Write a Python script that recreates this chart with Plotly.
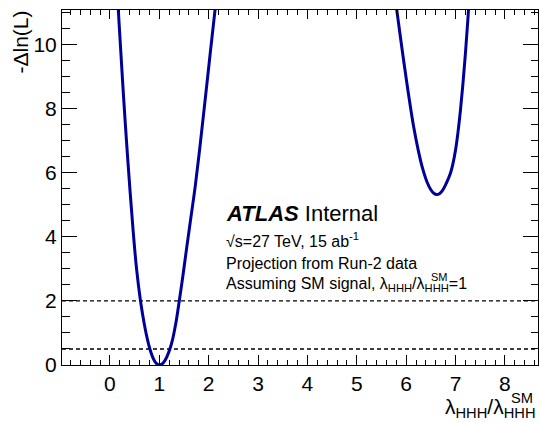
import plotly.graph_objects as go

# Likelihood scan: -Delta ln(L) versus lambda_HHH / lambda_HHH^SM
scan_low_x = [0.12, 0.17, 0.22, 0.28, 0.34, 0.405, 0.47, 0.54, 0.62, 0.70, 0.76, 0.81,
              0.86, 0.91, 0.955, 1.0, 1.055, 1.11, 1.16, 1.215, 1.27, 1.335, 1.405,
              1.48, 1.55, 1.64, 1.73, 1.83, 1.93, 2.03, 2.13, 2.18]
scan_low_y = [12.4, 11.09, 9.8, 8.29, 6.9, 5.5, 4.2, 3.0, 2.0, 1.25, 0.8, 0.5,
              0.27, 0.11, 0.03, 0.0, 0.033, 0.13, 0.28, 0.5, 0.8, 1.3, 2.0,
              2.8, 3.6, 4.6, 5.6, 6.9, 8.29, 9.7, 11.09, 11.8]

scan_high_x = [5.76, 5.81, 5.90, 6.00, 6.065, 6.15, 6.245, 6.33, 6.42, 6.50, 6.56, 6.62,
               6.68, 6.74, 6.80, 6.85, 6.90, 6.95, 7.00, 7.05, 7.10, 7.15, 7.20, 7.25,
               7.30]
scan_high_y = [11.65, 11.08, 10.05, 8.95, 8.27, 7.45, 6.70, 6.15, 5.72, 5.47, 5.36, 5.32,
               5.355, 5.46, 5.63, 5.80, 6.00, 6.30, 6.71, 7.27, 7.96, 8.78, 9.72, 10.79,
               11.98]

# Reference levels of -Delta ln(L)
ref_levels = [0.5, 2.0]

X_RANGE = [-0.97, 8.67]
Y_RANGE = [0.0, 11.08]

FONT = "Liberation Sans, Arial, Helvetica, sans-serif"
LINE_BLUE = "#000099"

fig = go.Figure()

for lvl in ref_levels:
    fig.add_trace(go.Scatter(
        x=X_RANGE, y=[lvl, lvl], mode="lines",
        line=dict(color="black", width=1.4, dash="4px,3px"),
        showlegend=False, hoverinfo="skip"))

for xs, ys in [(scan_low_x, scan_low_y), (scan_high_x, scan_high_y)]:
    fig.add_trace(go.Scatter(
        x=xs, y=ys, mode="lines",
        line=dict(color=LINE_BLUE, width=3, shape="spline", smoothing=1.0),
        showlegend=False, hoverinfo="skip"))

# invisible trace to bring up the mirrored top / right axes
fig.add_trace(go.Scatter(
    x=X_RANGE, y=[0, 0], xaxis="x2", yaxis="y2", mode="lines",
    line=dict(width=0), showlegend=False, hoverinfo="skip"))

common = dict(showgrid=False, zeroline=False, showline=True, linecolor="black",
              linewidth=1, ticks="inside", tickcolor="black", tickwidth=1)

fig.update_layout(
    width=540, height=423,
    margin=dict(l=62, r=2, t=10, b=58),
    paper_bgcolor="white", plot_bgcolor="white",
    font=dict(family=FONT, color="black", size=21),
    xaxis=dict(range=X_RANGE, tick0=0, dtick=1, ticklen=10,
               minor=dict(dtick=0.2, tick0=0, ticklen=5, ticks="inside",
                          tickcolor="black", tickwidth=1),
               tickfont=dict(size=21), **common),
    xaxis2=dict(range=X_RANGE, matches="x", overlaying="x", side="top",
                tick0=0, dtick=1, ticklen=9, showticklabels=False,
                minor=dict(dtick=0.2, tick0=0, ticklen=5, ticks="inside",
                           tickcolor="black", tickwidth=1),
                **common),
    yaxis=dict(range=Y_RANGE, tick0=0, dtick=2, ticklen=15,
               minor=dict(dtick=0.5, tick0=0, ticklen=7.5, ticks="inside",
                          tickcolor="black", tickwidth=1),
               tickfont=dict(size=21), **common),
    yaxis2=dict(range=Y_RANGE, matches="y", overlaying="y", side="right",
                tick0=0, dtick=2, ticklen=15, showticklabels=False,
                minor=dict(dtick=0.5, tick0=0, ticklen=7.5, ticks="inside",
                           tickcolor="black", tickwidth=1),
                **common),
)

# pixel -> paper helpers for the plot area (62..538 x 10..365)
def px(xp):
    return (xp - 62) / 476.0

def py(yp):
    return (365 - yp) / 355.0

ann = []
# axis titles
ann.append(dict(text="-Δln(L)", x=px(20), y=py(9), xref="paper", yref="paper",
                textangle=-90, xanchor="center", yanchor="top", showarrow=False,
                font=dict(size=21)))
ann.append(dict(text="λ<sub>HHH</sub>/λ<sub>HHH</sub>", x=px(538), y=py(408),
                xref="paper", yref="paper", xanchor="right", yanchor="middle",
                showarrow=False, font=dict(size=21)))
ann.append(dict(text="SM", x=px(509), y=py(398), xref="paper", yref="paper",
                xanchor="left", yanchor="middle", showarrow=False,
                font=dict(size=14.7)))

# ATLAS label block
ann.append(dict(text="<b><i>ATLAS</i></b> Internal", x=px(224), y=py(213),
                xref="paper", yref="paper", xanchor="left", yanchor="middle",
                showarrow=False, font=dict(size=22)))
ann.append(dict(text="√s=27 TeV, 15 ab<sup>-1</sup>", x=px(224), y=py(240),
                xref="paper", yref="paper", xanchor="left", yanchor="middle",
                showarrow=False, font=dict(size=16)))
ann.append(dict(text="Projection from Run-2 data", x=px(224), y=py(263),
                xref="paper", yref="paper", xanchor="left", yanchor="middle",
                showarrow=False, font=dict(size=16)))
ann.append(dict(text="Assuming SM signal, λ<sub>HHH</sub>/λ<sub>HHH</sub>=1",
                x=px(224), y=py(284), xref="paper", yref="paper",
                xanchor="left", yanchor="middle", showarrow=False,
                font=dict(size=16)))
ann.append(dict(text="SM", x=px(429), y=py(277), xref="paper", yref="paper",
                xanchor="left", yanchor="middle", showarrow=False,
                font=dict(size=11)))

fig.update_layout(annotations=ann)

fig.write_html("out.html")
